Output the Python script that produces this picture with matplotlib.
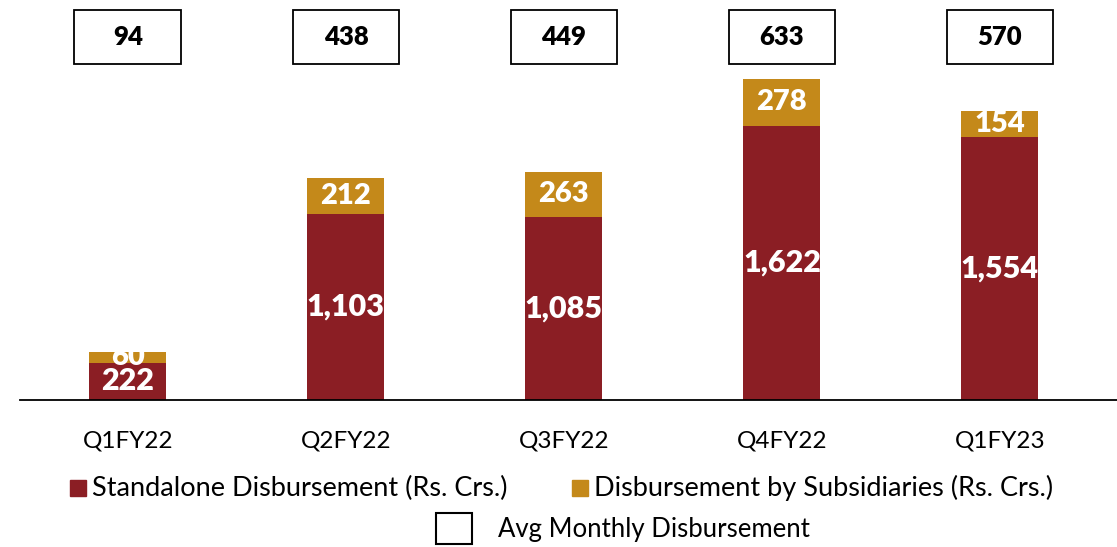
import numpy as np
import matplotlib.pyplot as plt
from matplotlib.patches import Rectangle

plt.rcParams['font.family'] = ['Lato', 'DejaVu Sans']

quarters = ['Q1FY22', 'Q2FY22', 'Q3FY22', 'Q4FY22', 'Q1FY23']
standalone = [222, 1103, 1085, 1622, 1554]
subsidiaries = [60, 212, 263, 278, 154]
avg_monthly = [94, 438, 449, 633, 570]

red = '#8B1E24'
gold = '#C4891A'

fig = plt.figure(figsize=(11.17, 5.47), dpi=100)
ax = fig.add_axes([0.0179, 0.2687, 0.9821, 0.7313])

x = np.arange(len(quarters))
w = 0.353
ax.bar(x, standalone, w, color=red)
ax.bar(x, subsidiaries, w, bottom=standalone, color=gold)

for i in range(len(x)):
    ax.text(x[i], standalone[i] / 2, f'{standalone[i]:,}', ha='center', va='center',
            color='white', fontsize=22, fontweight='heavy')
    ax.text(x[i], standalone[i] + subsidiaries[i] / 2, f'{subsidiaries[i]:,}', ha='center',
            va='center', color='white', fontsize=21, fontweight='heavy')
    # avg monthly box
    bw, bh = 0.49, 318
    yc = 2148
    ax.add_patch(Rectangle((x[i] - bw / 2, yc - bh / 2), bw, bh, fill=False,
                           edgecolor='black', lw=1.3, clip_on=False))
    ax.text(x[i], yc, str(avg_monthly[i]), ha='center', va='center',
            color='black', fontsize=18.5, fontweight='heavy')

ax.set_xlim(-0.495, 4.537)
ax.set_ylim(0, 2367)
for s in ['top', 'right', 'left']:
    ax.spines[s].set_visible(False)
ax.spines['bottom'].set_linewidth(1.3)
ax.set_yticks([])
ax.set_xticks(x)
ax.set_xticklabels(quarters, fontsize=17.5)
ax.tick_params(axis='x', length=0, pad=22)

# legend drawn by hand
fig.patches.append(Rectangle((70 / 1117, 1 - 496 / 547), 16 / 1117, 16 / 547,
                             transform=fig.transFigure, color=red, figure=fig))
fig.text(92 / 1117, 1 - 488 / 547, 'Standalone Disbursement (Rs. Crs.)', fontsize=19.5,
         va='center', ha='left')
fig.patches.append(Rectangle((572 / 1117, 1 - 496 / 547), 16 / 1117, 16 / 547,
                             transform=fig.transFigure, color=gold, figure=fig))
fig.text(594 / 1117, 1 - 488 / 547, 'Disbursement by Subsidiaries (Rs. Crs.)', fontsize=19.5,
         va='center', ha='left')
fig.patches.append(Rectangle((436 / 1117, 1 - 544 / 547), 36 / 1117, 31 / 547,
                             transform=fig.transFigure, fill=False, edgecolor='black',
                             lw=1.5, figure=fig))
fig.text(498 / 1117, 1 - 529 / 547, 'Avg Monthly Disbursement', fontsize=18.5,
         va='center', ha='left')

fig.savefig('out.png', dpi=100)
